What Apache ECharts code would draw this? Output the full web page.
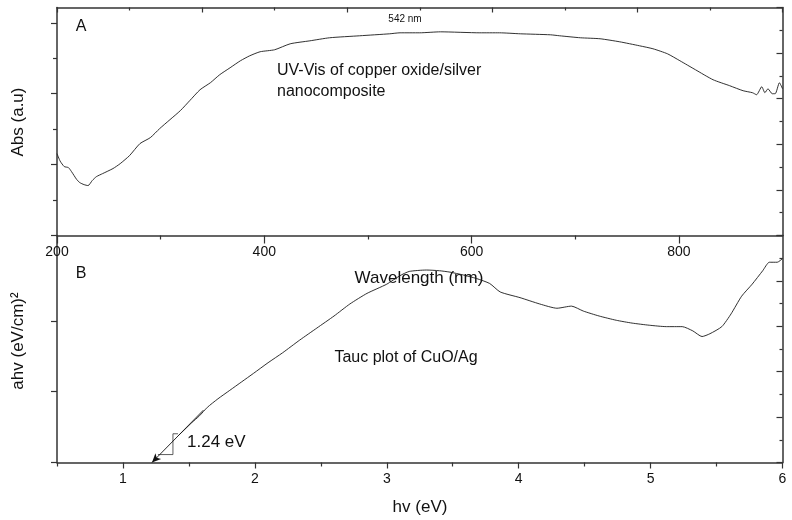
<!DOCTYPE html>
<html>
<head>
<meta charset="utf-8">
<script src="https://cdn.jsdelivr.net/npm/echarts@6/dist/echarts.min.js"></script>
<style>
html,body{margin:0;padding:0;background:#fff;}
#chart{width:792px;height:520px;}
</style>
</head>
<body>
<div id="chart"></div>
<script>
// ---- Panel A: UV-Vis absorbance ----
const absWavelength = [200,203,207,211,214,219,222,226,230,234,238,244,254,261,270,280,290,299,309,319,328,338,348,357,367,377,386,396,410,425,444,463,492,521,531,550,570,608,627,647,676,685,705,724,743,762,775,789,801,816,833,849,862,871,875,880,883,886,890,893,897,900];
const absValue = [1.155,1.050,0.972,0.958,0.901,0.790,0.746,0.718,0.704,0.775,0.830,0.873,0.944,1.014,1.127,1.296,1.380,1.507,1.634,1.761,1.901,2.056,2.155,2.268,2.366,2.465,2.535,2.592,2.620,2.704,2.746,2.789,2.817,2.845,2.859,2.859,2.873,2.859,2.859,2.845,2.831,2.817,2.789,2.775,2.732,2.676,2.634,2.563,2.465,2.338,2.197,2.113,2.042,2.014,1.986,2.099,2.014,2.070,2.000,2.000,2.155,2.070];
const absXTicks = [200,400,600,800];
const absXMinorTicks = [300,500,700];
const absYTicks = [0,1,2,3];
const absYMinorTicks = [0.5,1.5,2.5];

// ---- Panel B: Tauc plot ----
const taucHv = [1.42,1.47,1.52,1.58,1.64,1.72,1.81,1.90,1.99,2.10,2.21,2.34,2.47,2.60,2.72,2.85,3.00,3.10,3.17,3.30,3.40,3.48,3.58,3.68,3.78,3.86,4.01,4.16,4.29,4.40,4.49,4.61,4.74,4.86,4.99,5.12,5.24,5.32,5.39,5.45,5.54,5.61,5.69,5.77,5.85,5.90,5.96,6.00];
const taucValue = [0.38,0.47,0.56,0.66,0.78,0.90,1.02,1.14,1.26,1.41,1.55,1.73,1.90,2.07,2.24,2.39,2.52,2.64,2.70,2.72,2.71,2.69,2.65,2.60,2.53,2.41,2.33,2.24,2.18,2.21,2.14,2.07,2.01,1.97,1.94,1.92,1.92,1.86,1.78,1.82,1.92,2.10,2.35,2.52,2.71,2.83,2.83,2.88];
const taucXTicks = [1,2,3,4,5,6];
const taucXMinorTicks = [0.5,1.5,2.5,3.5,4.5,5.5];
const taucYTicks = [0,1,2];
const tangentLine = [[1.61,0.74],[1.22,0]];
const bracketLine = [[1.417,0.406],[1.379,0.406],[1.379,0.112],[1.265,0.112]];

const FONT = '"Liberation Sans", Arial, sans-serif';
const AX = '#333';
const axisLine = {show:true, onZero:false, lineStyle:{color:AX, width:1.5}};
const noLine = {show:false, onZero:false};
function tick(vals, len, inside){ return {show:true, customValues:vals, length:len, inside:!!inside, lineStyle:{color:AX, width:1.2}}; }

const chart = echarts.init(document.getElementById('chart'), null, {renderer:'canvas'});
const option = {
  backgroundColor:'#fff',
  animation:false,
  grid:[
    {left:57, right:9.5, top:7.5, height:228},
    {left:57, right:9.5, top:235.5, height:227}
  ],
  xAxis:[
    {gridIndex:0, type:'value', position:'bottom', min:200, max:900, axisLine:axisLine,
     axisTick:tick(absXTicks,8), splitLine:{show:false},
     axisLabel:{show:true, customValues:absXTicks, fontSize:14, fontFamily:FONT, color:'#111', margin:10}},
    {gridIndex:0, type:'value', position:'bottom', min:200, max:900, axisLine:noLine,
     axisTick:tick(absXMinorTicks,4), splitLine:{show:false}, axisLabel:{show:false}},
    {gridIndex:0, type:'value', position:'top', min:0, max:10, interval:2, axisLine:axisLine,
     axisTick:{show:true, inside:true, length:5, lineStyle:{color:AX, width:1.2}},
     minorTick:{show:true, splitNumber:2, length:3, lineStyle:{color:AX, width:1.2}},
     splitLine:{show:false}, axisLabel:{show:false}},
    {gridIndex:1, type:'value', position:'bottom', min:0.5, max:6, axisLine:axisLine,
     axisTick:tick(taucXTicks,6), splitLine:{show:false},
     axisLabel:{show:true, customValues:taucXTicks, fontSize:14, fontFamily:FONT, color:'#111', margin:10}},
    {gridIndex:1, type:'value', position:'bottom', min:0.5, max:6, axisLine:noLine,
     axisTick:tick(taucXMinorTicks,4), splitLine:{show:false}, axisLabel:{show:false}}
  ],
  yAxis:[
    {gridIndex:0, type:'value', position:'left', min:0, max:3.216, axisLine:axisLine,
     axisTick:tick(absYTicks,6), splitLine:{show:false}, axisLabel:{show:false}},
    {gridIndex:0, type:'value', position:'left', min:0, max:3.216, axisLine:noLine,
     axisTick:tick(absYMinorTicks,4), splitLine:{show:false}, axisLabel:{show:false}},
    {gridIndex:0, type:'value', position:'right', min:0, max:10, interval:2, axisLine:axisLine,
     axisTick:{show:true, inside:true, length:6, lineStyle:{color:AX, width:1.2}},
     minorTick:{show:true, splitNumber:2, length:3, lineStyle:{color:AX, width:1.2}},
     splitLine:{show:false}, axisLabel:{show:false}},
    {gridIndex:1, type:'value', position:'left', min:0, max:3.208, axisLine:axisLine,
     axisTick:tick(taucYTicks,6), splitLine:{show:false}, axisLabel:{show:false}},
    {gridIndex:1, type:'value', position:'right', min:0, max:10, interval:2, axisLine:axisLine,
     axisTick:{show:true, inside:true, length:6, lineStyle:{color:AX, width:1.2}},
     minorTick:{show:true, splitNumber:2, length:3, lineStyle:{color:AX, width:1.2}},
     splitLine:{show:false}, axisLabel:{show:false}}
  ],
  series:[
    {type:'line', xAxisIndex:0, yAxisIndex:0, symbol:'none', smooth:0.2,
     lineStyle:{color:'#1a1a1a', width:0.9},
     data:absWavelength.map((w,i)=>[w, absValue[i]])},
    {type:'line', xAxisIndex:3, yAxisIndex:3, symbol:'none', smooth:0.2,
     lineStyle:{color:'#1a1a1a', width:0.9},
     data:taucHv.map((h,i)=>[h, taucValue[i]])},
    {type:'line', xAxisIndex:3, yAxisIndex:3, symbol:'none',
     lineStyle:{color:'#333', width:0.8},
     data:bracketLine,
     markLine:{silent:true, symbol:['none','arrow'], symbolSize:[6,9],
       label:{show:false}, lineStyle:{color:'#111', width:0.9, type:'solid'},
       emphasis:{disabled:true},
       data:[[{coord:tangentLine[0]},{coord:tangentLine[1]}]]}}
  ],
  graphic:[
    {type:'text', x:81, y:27, style:{text:'A', font:'16px '+FONT, fill:'#111', align:'center', verticalAlign:'middle'}},
    {type:'text', x:405, y:19, style:{text:'542 nm', font:'10px '+FONT, fill:'#111', align:'center', verticalAlign:'middle'}},
    {type:'text', x:277, y:71, style:{text:'UV-Vis of copper oxide/silver', font:'16px '+FONT, fill:'#111', align:'left', verticalAlign:'middle'}},
    {type:'text', x:277, y:92, style:{text:'nanocomposite', font:'16px '+FONT, fill:'#111', align:'left', verticalAlign:'middle'}},
    {type:'text', x:18, y:122, rotation:Math.PI/2, style:{text:'Abs (a.u)', font:'17px '+FONT, fill:'#111', align:'center', verticalAlign:'middle'}},
    {type:'text', x:81, y:274, style:{text:'B', font:'16px '+FONT, fill:'#111', align:'center', verticalAlign:'middle'}},
    {type:'text', x:419, y:278, style:{text:'Wavelength (nm)', font:'17px '+FONT, fill:'#111', align:'center', verticalAlign:'middle'}},
    {type:'text', x:406, y:358, style:{text:'Tauc plot of CuO/Ag', font:'16px '+FONT, fill:'#111', align:'center', verticalAlign:'middle'}},
    {type:'text', x:187, y:442, style:{text:'1.24 eV', font:'17px '+FONT, fill:'#111', align:'left', verticalAlign:'middle'}},
    {type:'text', x:18, y:341, rotation:Math.PI/2, style:{text:'ahv (eV/cm)\u00B2', font:'17px '+FONT, fill:'#111', align:'center', verticalAlign:'middle'}},
    {type:'text', x:420, y:507, style:{text:'hv (eV)', font:'17px '+FONT, fill:'#111', align:'center', verticalAlign:'middle'}}
  ]
};
chart.setOption(option);
</script>
</body>
</html>
